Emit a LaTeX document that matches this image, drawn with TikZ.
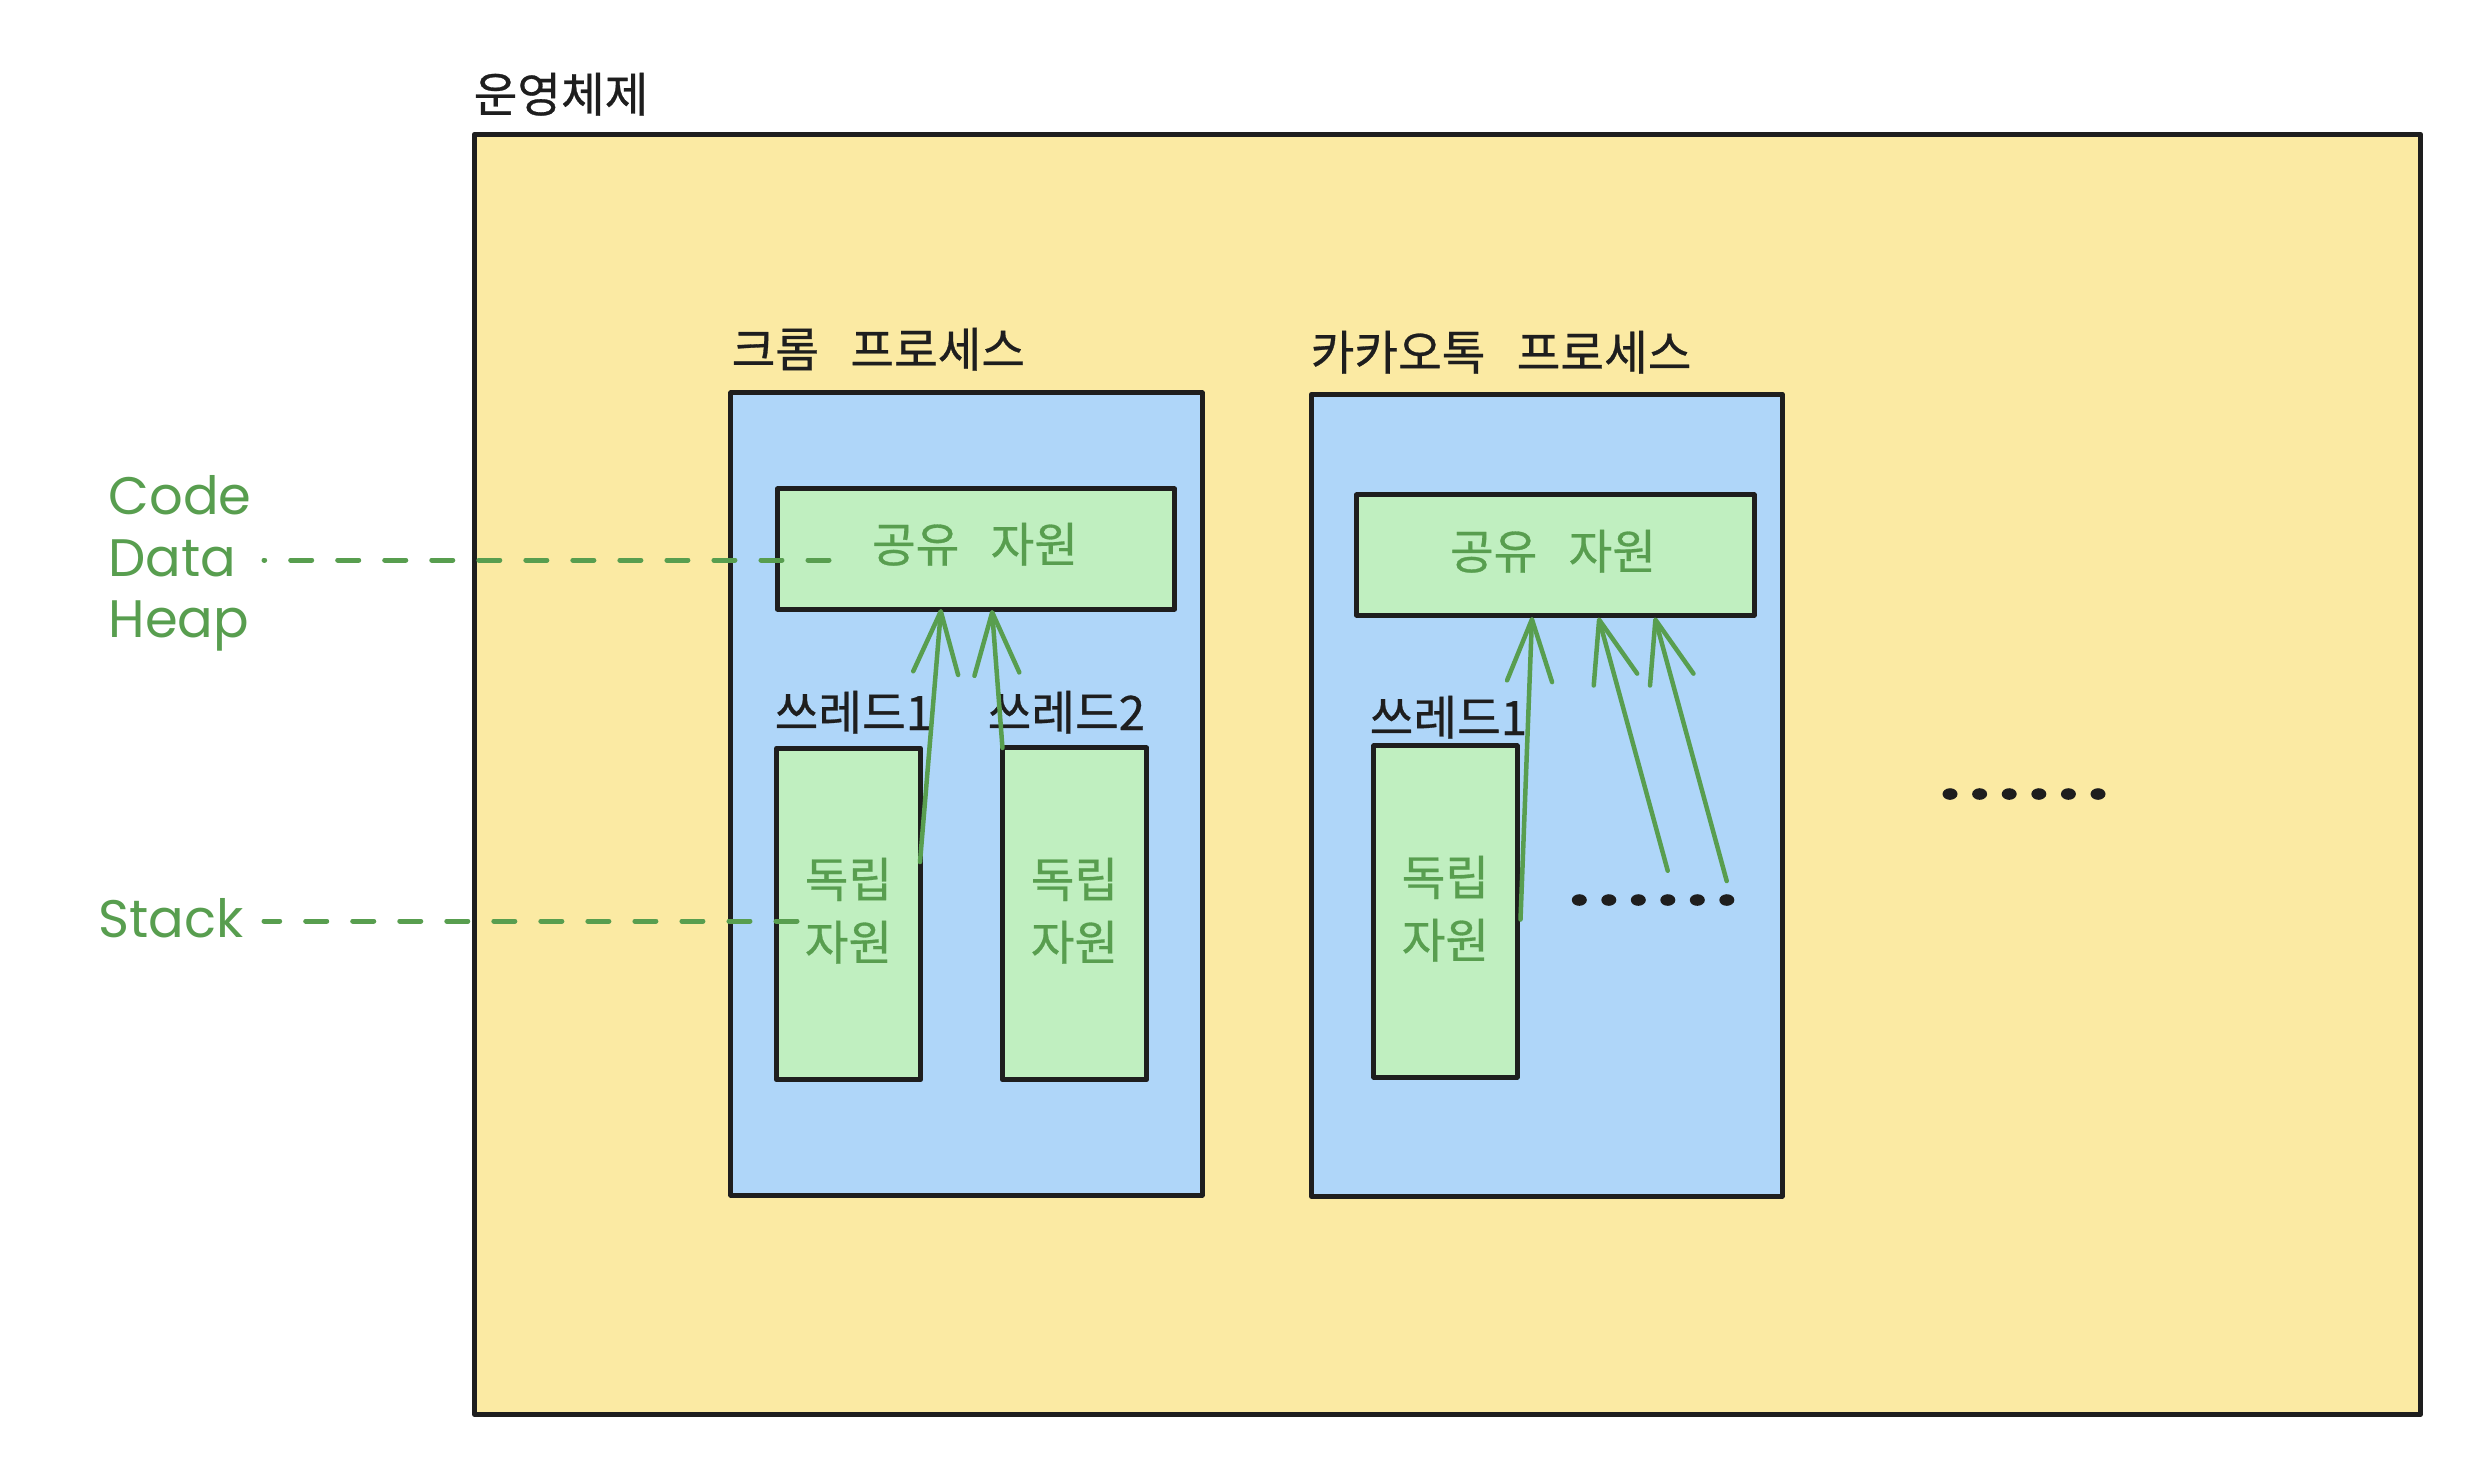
\documentclass[tikz,border=0pt]{standalone}
\usepackage{fontspec}
\newfontfamily\krfont[FakeBold=0.6]{Noto Sans CJK KR}
\newfontfamily\handfont{Poppins}
\newcommand{\wsp}{\hspace{0.66em}}
\usetikzlibrary{arrows.meta}
\definecolor{ink}{HTML}{1E1E1E}
\definecolor{osfill}{HTML}{FBEAA3}
\definecolor{procfill}{HTML}{AFD6F9}
\definecolor{resfill}{HTML}{C0EFC0}
\definecolor{grn}{HTML}{589E4F}
\begin{document}
\begin{tikzpicture}[x=0.01cm,y=-0.01cm,
  boxbase/.style={draw=ink, line width=0.05cm, line join=round, rectangle, inner sep=0pt, outer sep=0pt},
  osbox/.style={boxbase, fill=osfill},
  procbox/.style={boxbase, fill=procfill},
  resbox/.style={boxbase, fill=resfill},
  titletext/.style={font=\krfont\fontsize{13.5pt}{16pt}\selectfont, text=ink, inner sep=0pt, anchor=base west},
  restext/.style={font=\krfont\fontsize{13.5pt}{16pt}\selectfont, text=grn, inner sep=0pt, anchor=base},
  handlbl/.style={font=\handfont\fontsize{15pt}{18pt}\selectfont, text=grn, inner sep=0pt, anchor=base west},
  uselink/.style={draw=grn, line width=0.045cm, line cap=round, -{Straight Barb[length=0.62cm,width=0.45cm,round]}},
  dashlink/.style={draw=grn, line width=0.05cm, line cap=round, dash pattern=on 0.21cm off 0.26cm},
  dotmark/.style={fill=ink}
]
\useasboundingbox[fill=white] (0,0) rectangle (2482,1462);

% operating system
\node[osbox, minimum width=19.45cm, minimum height=12.795cm] (os) at (1447.5,774.25) {};
\node[titletext] (oslbl) at (473,112) {운영체제};

% chrome process
\node[titletext] (chlbl) at (731,367) {크롬\wsp 프로세스};
\node[procbox, minimum width=4.71cm, minimum height=8.02cm] (chrome) at (966.5,794) {};
\node[resbox, minimum width=3.97cm, minimum height=1.20cm] (sh1) at (976,549) {};
\node[restext] (sh1t) at (975,562) {공유\wsp 자원};
\node[titletext] (t11) at (774,730) {쓰레드1};
\node[titletext] (t12) at (987,730) {쓰레드2};
\node[resbox, minimum width=1.44cm, minimum height=3.31cm] (ind1) at (848.5,914) {};
\node[resbox, minimum width=1.44cm, minimum height=3.315cm] (ind2) at (1074.5,913.75) {};
\node[restext] (ind1a) at (848.5,897) {독립};
\node[restext] (ind1b) at (848.5,960) {자원};
\node[restext] (ind2a) at (1074.5,897) {독립};
\node[restext] (ind2b) at (1074.5,960) {자원};

% kakaotalk process
\node[titletext] (kalbl) at (1310,370) {카카오톡\wsp 프로세스};
\node[procbox, minimum width=4.704cm, minimum height=8.015cm] (kakao) at (1546.8,795.25) {};
\node[resbox, minimum width=3.974cm, minimum height=1.20cm] (sh2) at (1555.3,555) {};
\node[restext] (sh2t) at (1553,569) {공유\wsp 자원};
\node[titletext] (t21) at (1369,735) {쓰레드1};
\node[resbox, minimum width=1.432cm, minimum height=3.31cm] (ind3) at (1445.4,911.5) {};
\node[restext] (ind3a) at (1445.4,895) {독립};
\node[restext] (ind3b) at (1445.4,958) {자원};

% memory labels
\node[handlbl] (code) at (108,514) {Code};
\node[handlbl] (data) at (108,576) {Data};
\node[handlbl] (heap) at (108,637) {Heap};
\node[handlbl] (stack) at (98,937) {Stack};

% connector end points
\coordinate (dataS) at (264,560);
\coordinate (dataE) at (829,560);
\coordinate (stackS) at (264,921);
\coordinate (stackE) at (797,921);
\coordinate (a1s) at (920,862);
\coordinate (a1e) at (941,609);
\coordinate (a2e) at (992,610);
\coordinate (k1s) at (1520.5,919.5);
\coordinate (k1e) at (1532,617);
\coordinate (k2s) at (1667.7,870.7);
\coordinate (k2e) at (1598.5,617.5);
\coordinate (k3s) at (1726.7,881);
\coordinate (k3e) at (1654.8,617.5);

% dashed memory connectors
\draw[dashlink] (dataE) -- (dataS);
\draw[dashlink] (stackE) -- (stackS);

% thread -> shared resource arrows
\draw[uselink] (a1s) -- (a1e);
\draw[uselink] (ind2.north west) -- (a2e);
\draw[uselink] (k1s) -- (k1e);
\draw[uselink] (k2s) -- (k2e);
\draw[uselink] (k3s) -- (k3e);

% ellipsis dots
\foreach \i in {0,...,5} {
  \fill[dotmark] (1579.3+29.5*\i,900) ellipse [x radius=0.075cm, y radius=0.058cm];
  \fill[dotmark] (1950+29.6*\i,794) ellipse [x radius=0.075cm, y radius=0.058cm];
}
\end{tikzpicture}
\end{document}
